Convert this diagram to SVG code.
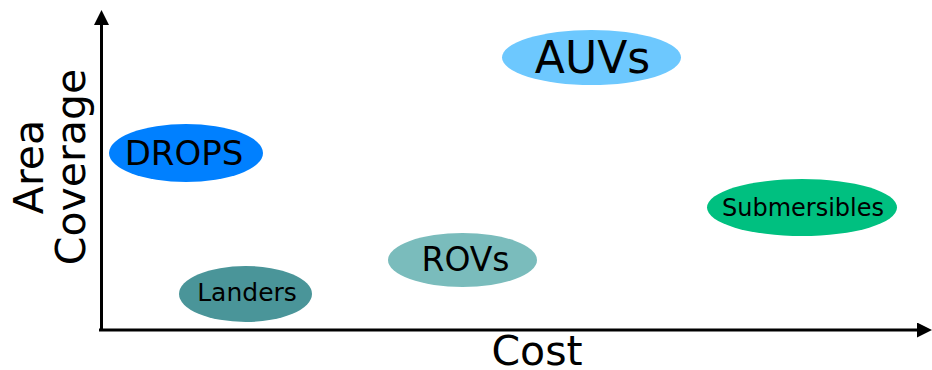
<svg xmlns="http://www.w3.org/2000/svg" width="932" height="370" viewBox="0 0 932 370">
  <style>
    text { font-family: "DejaVu Sans", "Liberation Sans", sans-serif; fill: #000; text-anchor: middle; }
    .axis { stroke: #000; stroke-width: 3; fill: none; }
    .axis-label { font-size: 41px; }
  </style>
  <defs>
    <marker id="arrow" viewBox="0 0 10 10" refX="0" refY="5" markerWidth="5" markerHeight="5" markerUnits="strokeWidth" orient="auto">
      <path d="M0,0 L10,5 L0,10 Z" fill="#000"/>
    </marker>
  </defs>

  <!-- axes -->
  <g id="connectors">
    <path class="axis" d="M101.5,331 L101.5,25" marker-end="url(#arrow)"/>
    <path class="axis" d="M99,330 L917,330" marker-end="url(#arrow)"/>
  </g>

  <!-- axis titles -->
  <g id="axis-labels">
    <text class="axis-label" transform="translate(43,167) rotate(-90)">Area</text>
    <text class="axis-label" transform="translate(85,167) rotate(-90)">Coverage</text>
    <text class="axis-label" x="537" y="365">Cost</text>
  </g>

  <!-- platforms -->
  <g id="drops">
    <ellipse cx="186" cy="153" rx="77" ry="29" fill="#0080ff"/>
    <text x="184" y="165" font-size="34">DROPS</text>
  </g>
  <g id="auvs">
    <ellipse cx="591.5" cy="57.5" rx="89.5" ry="27.5" fill="#6dc8fe"/>
    <text x="592.5" y="73" font-size="44">AUVs</text>
  </g>
  <g id="rovs">
    <ellipse cx="462.5" cy="260" rx="74.5" ry="27" fill="#7abcbc"/>
    <text x="465.5" y="271" font-size="33">ROVs</text>
  </g>
  <g id="landers">
    <ellipse cx="245.5" cy="294" rx="66.5" ry="28" fill="#4a9599"/>
    <text x="247" y="301" font-size="25">Landers</text>
  </g>
  <g id="submersibles">
    <ellipse cx="802" cy="207.5" rx="95" ry="28.5" fill="#00c080"/>
    <text x="803" y="216" font-size="24">Submersibles</text>
  </g>
</svg>
